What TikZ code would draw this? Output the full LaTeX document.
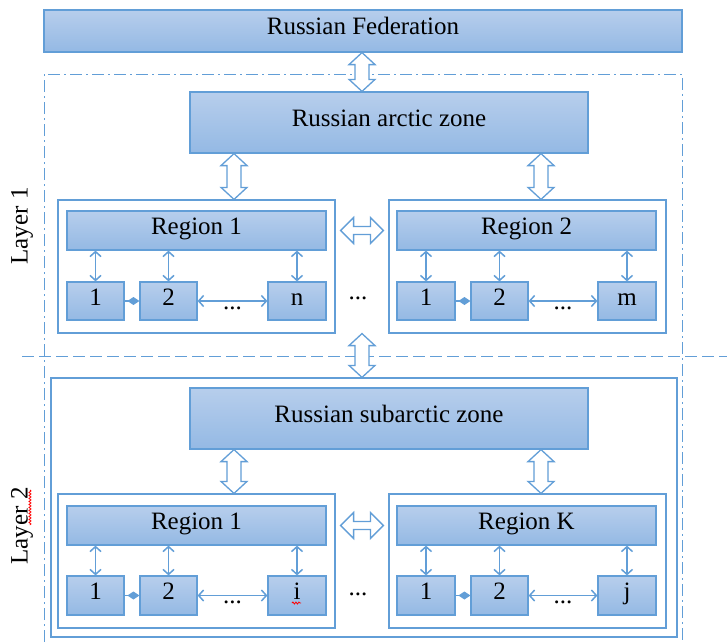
\documentclass[tikz,border=0pt]{standalone}
\usepackage{fontspec}
\setmainfont{Liberation Serif}
\usetikzlibrary{arrows.meta,calc,decorations.pathmorphing}
\definecolor{bord}{RGB}{98,158,215}
\definecolor{ftop}{RGB}{183,206,236}
\definecolor{fbot}{RGB}{148,185,228}
\newcommand\mkbox[7]{\node[#1, minimum width={#5-#3}, minimum height={#6-#4}] (#2) at ({(#3+#5)/2},{(#4+#6)/2}) {#7};}
\newcommand\blkv[3]{%
\draw[blk] let \p1=(#1.south), \p2=(#2.north) in
 ({#3pt},\y1) -- ({#3pt+13pt},{\y1-12pt}) -- ({#3pt+7pt},{\y1-12pt}) -- ({#3pt+7pt},{\y2+12pt}) -- ({#3pt+13pt},{\y2+12pt}) -- ({#3pt},\y2) -- ({#3pt-13pt},{\y2+12pt}) -- ({#3pt-7pt},{\y2+12pt}) -- ({#3pt-7pt},{\y1-12pt}) -- ({#3pt-13pt},{\y1-12pt}) -- cycle;}
\newcommand\blkh[3]{%
\draw[blk] let \p1=(#1.east |- #3.center), \p2=(#2.west |- #3.center) in
 ({\x1+5pt},\y1) -- ({\x1+18pt},{\y1+13pt}) -- ({\x1+18pt},{\y1+4pt}) -- ({\x2-18pt},{\y1+4pt}) -- ({\x2-18pt},{\y1+13pt}) -- ({\x2-5pt},\y1) -- ({\x2-18pt},{\y1-13pt}) -- ({\x2-18pt},{\y1-4pt}) -- ({\x1+18pt},{\y1-4pt}) -- ({\x1+18pt},{\y1-13pt}) -- cycle;}
\begin{document}
\begin{tikzpicture}[x=1pt,y=-1pt, font=\fontsize{25}{30}\selectfont,
 box/.style={draw=bord, line width=1.2pt, top color=ftop, bottom color=fbot, inner sep=0pt, text=black, text height=16pt, text depth=8pt},
 frame/.style={draw=bord, line width=1.2pt, fill=white, inner sep=0pt},
 blk/.style={draw=bord, line width=1.3pt, fill=white, line join=miter},
 sarrow/.style={draw=bord, line width=1.5pt, {Straight Barb[length=5pt,width=11pt]}-{Straight Barb[length=5pt,width=11pt]}},
 darrow/.style={draw=bord, line width=1.5pt, -{Diamond[length=12pt,width=8pt]}},
 dotsnode/.style={inner sep=0pt, yshift=-7pt},
 squig/.style={draw=red, line width=0.8pt, decorate, decoration={snake, amplitude=1pt, segment length=3pt}}
]
\useasboundingbox (0,0) rectangle (727,642);
% layer frames
\draw[bord, line width=1pt, dash pattern=on 12pt off 4pt on 2pt off 4pt] (44,642) -- (44,74) -- (682,74) -- (682,642);
\draw[bord, line width=1pt, dash pattern=on 12pt off 5pt] (22,356) -- (727,356);
\mkbox{frame}{lay2}{51}{378}{677}{637}{}
% top
\mkbox{box}{rf}{44}{10}{682}{52}{Russian Federation}
\mkbox{box}{arc}{190}{92}{588}{153}{Russian arctic zone}
\mkbox{box}{sub}{190}{388}{588}{449}{Russian subarctic zone}
% layer 1 containers
\mkbox{frame}{fa}{58}{200}{335}{333}{}
\mkbox{frame}{fb}{389}{200}{666}{333}{}
\mkbox{box}{ra}{67}{211}{326}{250}{Region 1}
\mkbox{box}{rb}{397}{211}{656}{250}{Region 2}
\mkbox{box}{a1}{67}{282}{124}{320}{1}
\mkbox{box}{a2}{140}{282}{197}{320}{2}
\mkbox{box}{an}{268}{282}{326}{320}{n}
\mkbox{box}{b1}{397}{282}{455}{320}{1}
\mkbox{box}{b2}{471}{282}{528}{320}{2}
\mkbox{box}{bm}{598}{282}{656}{320}{m}
% layer 2 containers
\mkbox{frame}{fc}{58}{494}{335}{628}{}
\mkbox{frame}{fd}{389}{494}{666}{628}{}
\mkbox{box}{rc}{67}{506}{326}{545}{Region 1}
\mkbox{box}{rd}{397}{506}{656}{545}{Region K}
\mkbox{box}{c1}{67}{576}{124}{615}{1}
\mkbox{box}{c2}{140}{576}{197}{615}{2}
\mkbox{box}{ci}{268}{576}{326}{615}{i}
\mkbox{box}{d1}{397}{576}{455}{615}{1}
\mkbox{box}{d2}{471}{576}{528}{615}{2}
\mkbox{box}{dj}{598}{576}{656}{615}{j}
% block arrows
\blkv{rf}{arc}{362}
\blkv{arc}{fa}{234}
\blkv{arc}{fb}{541}
\blkv{fa}{lay2}{362}
\blkv{sub}{fc}{234}
\blkv{sub}{fd}{541}
\blkh{fa}{fb}{ra}
\blkh{fc}{fd}{rc}
% small arrows
\foreach \r/\bb in {ra/a1,ra/a2,ra/an,rb/b1,rb/b2,rb/bm,rc/c1,rc/c2,rc/ci,rd/d1,rd/d2,rd/dj}{
  \draw[sarrow] (\bb.north |- \r.south) -- (\bb.north);
}
\draw[darrow] (a1.east) -- (a2.west);
\draw[darrow] (b1.east) -- (b2.west);
\draw[darrow] (c1.east) -- (c2.west);
\draw[darrow] (d1.east) -- (d2.west);
\draw[sarrow] (a2.east) -- node[dotsnode] {...} (an.west);
\draw[sarrow] (b2.east) -- node[dotsnode] {...} (bm.west);
\draw[sarrow] (c2.east) -- node[dotsnode] {...} (ci.west);
\draw[sarrow] (d2.east) -- node[dotsnode] {...} (dj.west);
\node[inner sep=0pt] (dots1) at (358,298) {...};
\node[inner sep=0pt] (dots2) at (358,594) {...};
% layer labels
\node[rotate=90, inner sep=0pt] (l1) at (22,226) {Layer 1};
\node[rotate=90, inner sep=0pt] (l2) at (22,526) {Layer 2};
\draw[squig] (30,490) -- (30,525);
\draw[squig] (292,603) -- (301,603);
\end{tikzpicture}
\end{document}
